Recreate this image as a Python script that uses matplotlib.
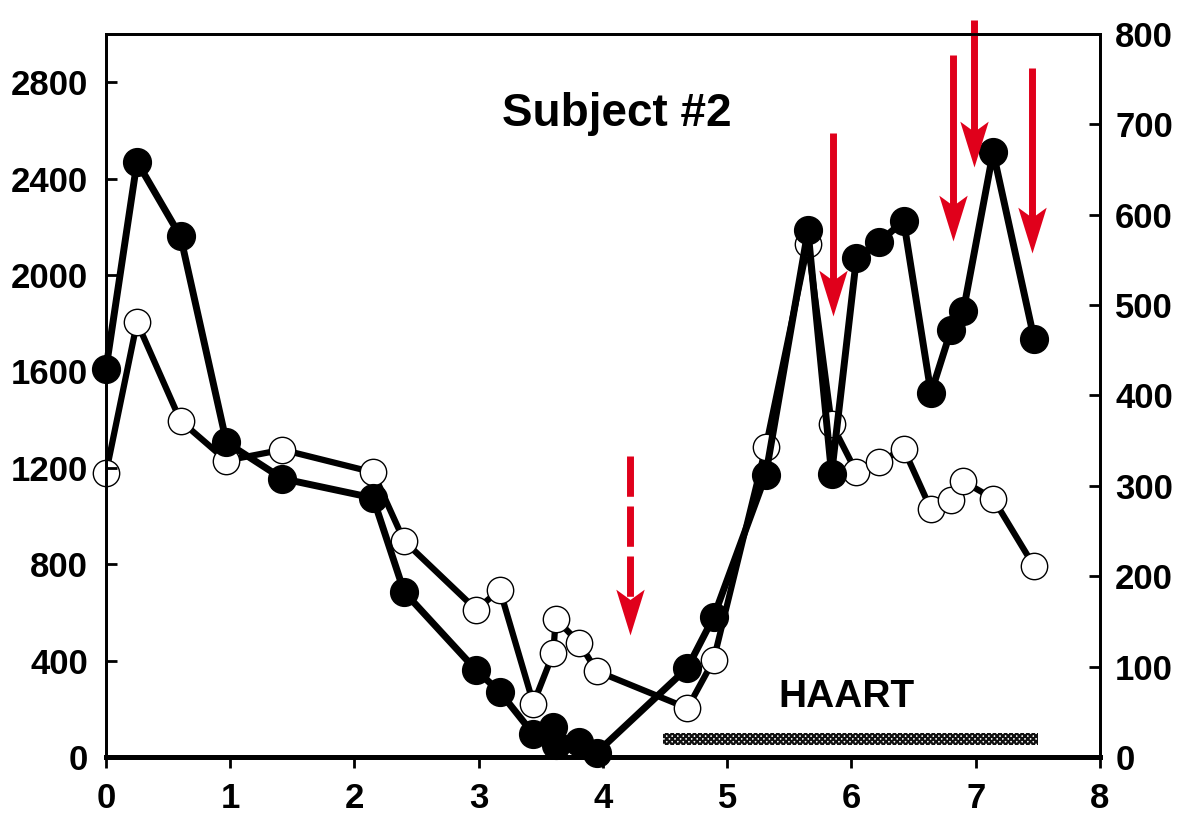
import numpy as np
import matplotlib
matplotlib.use("Agg")
import matplotlib.pyplot as plt
from matplotlib.path import Path

plt.rcParams['font.family'] = ['Liberation Sans', 'DejaVu Sans']
plt.rcParams['font.weight'] = 'bold'
plt.rcParams['hatch.linewidth'] = 1.6

#===========================================================#

### Data

# sample times (years)
years = [0.0, 0.25, 0.6, 0.97, 1.42, 2.15, 2.4, 2.98, 3.17, 3.44, 3.6, 3.62, 3.81, 3.95,
         4.68, 4.89, 5.31, 5.65, 5.84, 6.04, 6.22, 6.42, 6.64, 6.8, 6.9, 7.14, 7.47]

# filled circles, left axis
left_vals = [1610, 2470, 2160, 1305, 1155, 1075, 685, 360, 270, 95, 125, 50, 62, 18,
             370, 580, 1170, 2185, 1175, 2070, 2135, 2225, 1510, 1770, 1850, 2510, 1735]

# open circles, right axis
right_vals = [314, 481, 372, 328, 340, 315, 239, 163, 185, 59, 115, 153, 126, 95,
              54, 107, 343, 568, 369, 315, 326, 341, 274, 284, 305, 286, 211]

# red arrows: x, shaft top, tip (left axis units)
arrow_x = [4.22, 5.85, 6.82, 6.99, 7.45]
arrow_top = [1250, 2590, 2915, 3060, 2860]
arrow_tip = [505, 1830, 2140, 2450, 2090]
arrow_dashed = [True, False, False, False, False]

# HAART period
haart_start = 4.48
haart_end = 7.5

#===========================================================#

red = '#e0001b'

fig = plt.figure(figsize=(11.88, 8.30), dpi=100)
ax = fig.add_axes([0.0892, 0.088, 0.9259 - 0.0892, 0.959 - 0.088])
ax2 = ax.twinx()

# open circles on the right axis, drawn underneath
ax2.plot(years, right_vals, '-', color='black', lw=4.5, marker='o', ms=19,
         mfc='white', mec='black', mew=1.0, clip_on=False)
ax2.set_ylim(0, 800)
ax2.set_yticks(range(0, 801, 100))

# filled circles on the left axis, on top
ax.set_zorder(ax2.get_zorder() + 1)
ax.patch.set_visible(False)
ax.plot(years, left_vals, '-', color='black', lw=5, marker='o', ms=20,
        mfc='black', mec='black', clip_on=False)

ax.set_xlim(0, 8)
ax.set_ylim(0, 3000)
ax.set_xticks(range(0, 9))
ax.set_yticks(range(0, 2801, 400))

# HAART bar
ax.barh(75, haart_end - haart_start, left=haart_start, height=50,
        facecolor='white', edgecolor='#111111', hatch='xxxxxx', linewidth=0)
ax.text(5.96, 250, 'HAART', fontsize=28, fontweight='bold', ha='center', va='center')

ax.text(4.11, 2670, 'Subject #2', fontsize=33, fontweight='bold', ha='center', va='center')

# arrows: shaft + notched head marker
head = Path([(0, 0), (0.62, 2), (0, 1.55), (-0.62, 2), (0, 0)],
            [Path.MOVETO, Path.LINETO, Path.LINETO, Path.LINETO, Path.CLOSEPOLY])
for x, top, tip, dashed in zip(arrow_x, arrow_top, arrow_tip, arrow_dashed):
    if dashed:
        ax.plot([x, x], [top, tip + 120], color=red, lw=5, clip_on=False,
                solid_capstyle='butt', dash_capstyle='butt', dashes=(5.8, 1.4))
    else:
        ax.plot([x, x], [top, tip + 120], color=red, lw=5, clip_on=False,
                solid_capstyle='butt')
    ax.plot([x], [tip], marker=head, ms=66, color=red, mew=0, clip_on=False)

# spines and ticks
for s in ['left', 'right', 'top']:
    ax.spines[s].set_linewidth(2)
    ax2.spines[s].set_linewidth(2)
ax.spines['bottom'].set_linewidth(3.5)
ax2.spines['bottom'].set_linewidth(3.5)

ax.tick_params(axis='y', direction='in', length=8, width=2, labelsize=25, pad=13)
ax.tick_params(axis='x', direction='out', length=8, width=2, labelsize=25, pad=10)
ax2.tick_params(axis='y', direction='in', length=8, width=2, labelsize=25, pad=11)
for lab in ax.get_xticklabels() + ax.get_yticklabels() + ax2.get_yticklabels():
    lab.set_fontweight('bold')

plt.savefig("out.png", dpi=100)
